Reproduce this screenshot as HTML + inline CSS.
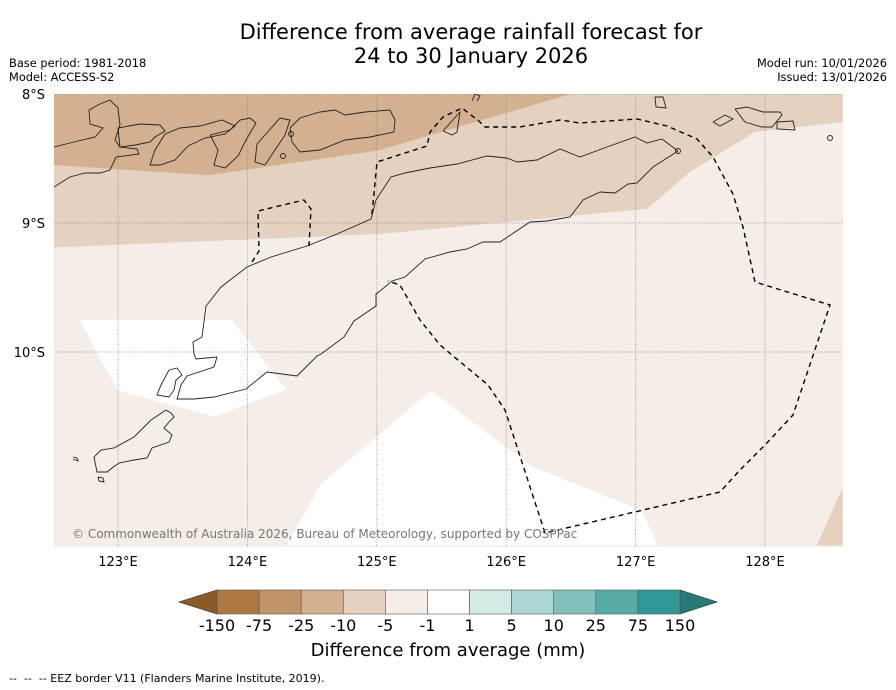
<!DOCTYPE html>
<html><head><meta charset="utf-8"><style>
body{margin:0;background:#fff;font-family:"DejaVu Sans","Liberation Sans",sans-serif}
#c{position:relative;width:896px;height:690px;overflow:hidden}
.t{position:absolute;white-space:nowrap}
</style></head><body>
<div id="c">
<div class="t" style="left:0;width:942px;top:20px;text-align:center;font-size:21px;line-height:24px">Difference from average rainfall forecast for<br>24 to 30 January 2026</div>
<div class="t" style="left:9px;top:56px;font-size:11.4px;line-height:14px">Base period: 1981-2018<br>Model: ACCESS-S2</div>
<div class="t" style="right:9px;top:56px;font-size:11.4px;line-height:14px;text-align:right">Model run: 10/01/2026<br>Issued: 13/01/2026</div>
<svg id="s" width="896" height="690" style="position:absolute;left:0;top:0"></svg>
<div class="t" style="left:0;width:896px;top:640px;text-align:center;font-size:18px">Difference from average (mm)</div>
<div class="t" style="left:9px;top:672px;font-size:11px">--&nbsp; --&nbsp; -- EEZ border V11 (Flanders Marine Institute, 2019).</div>
</div>
<script>
const lonTicks=[123,124,125,126,127,128];
const latTicks=[8,9,10];
const cbLabels=["-150","-75","-25","-10","-5","-1","1","5","10","25","75","150"];
const cbColors=["#8c5a26","#ad7842","#c09468","#d3b190","#e4d1c0","#f4ede8","#ffffff","#d5ebe8","#acd7d4","#82c0bc","#58aaa7","#2f9894","#267a78"];
// contour regions as [lon,lat(S)] pairs
const bandDark=[[122.5,8],[126.5,8],[125,8.44],[123.7,8.63],[122.5,8.55]];
const bandMid=[[122.5,8],[128.6,8],[128.6,8.217],[127.92,8.295],[127.42,8.605],[127.09,8.89],[125.02,9.085],[122.5,9.19]];
const whiteA=[[122.7,9.75],[123.88,9.75],[124.3,10.29],[123.75,10.5],[123,10.3]];
const whiteB=[[124.3,11.5],[124.57,11.02],[125.42,10.3],[126.2,10.89],[127.05,11.23],[127.17,11.5]];
const tanBR=[[128.4,11.5],[128.6,11.05],[128.6,11.5]];
// outline geometry (pixel-space traces of coast & border)
const eezA=[[252,262],[259,251],[258,211],[304,200],[311,209],[309,246]];
const eezB=[[372,214],[377,162],[427,146],[430,132],[443,117],[462,108],[480,122],[485,127],[520,127],[560,120],[580,123],[637,119],[667,126],[697,139],[713,157],[733,194],[743,227],[755,282],[830,305],[793,415],[765,445],[740,470],[720,492],[545,533],[505,410],[488,385],[440,345],[420,320],[400,285],[388,281]];
const timor=[[678,151],[653,167],[637,183],[628,184],[615,193],[600,192],[583,200],[570,217],[547,221],[530,222],[500,242],[483,242],[467,249],[450,252],[425,259],[405,277],[392,281],[380,291],[376,294],[376,306],[354,321],[344,337],[321,354],[317,356],[297,376],[267,372],[246,389],[214,397],[194,399],[177,399],[181,385],[187,376],[214,367],[217,357],[196,359],[194,354],[193,342],[202,337],[206,306],[221,287],[247,267],[271,257],[307,246],[337,234],[371,219],[376,200],[391,177],[405,173],[430,168],[457,164],[487,156],[507,158],[517,162],[537,160],[560,149],[580,157],[607,147],[635,137],[647,143],[662,139],[678,151]];
const islands=[
[[54,147],[70,143],[95,137],[103,128],[90,124],[89,110],[100,104],[110,100],[118,108],[120,125],[115,140],[120,147],[137,149],[139,154],[116,157],[110,170],[100,173],[85,173],[70,177],[54,187]],
[[118,128],[140,124],[160,125],[165,131],[155,137],[150,142],[135,145],[120,147],[118,128]],
[[165,134],[180,128],[200,126],[222,120],[235,126],[225,134],[205,138],[188,146],[175,160],[160,165],[150,165],[155,150],[165,134]],
[[210,135],[230,130],[240,120],[250,118],[256,123],[246,140],[238,156],[225,168],[214,165],[218,150],[210,135]],
[[257,144],[265,135],[280,118],[290,120],[285,135],[275,150],[265,165],[255,162],[257,144]],
[[290,128],[300,118],[320,112],[335,110],[345,115],[365,112],[390,110],[395,120],[394,132],[370,137],[345,140],[320,150],[300,152],[292,142],[290,128]],
[[443,131],[460,112],[457,132],[452,135],[443,131]],
[[472,101],[475,94],[480,96],[477,101]],
[[655,97],[663,97],[666,108],[656,107],[655,97]],
[[713,122],[725,115],[733,119],[720,126],[713,122]],
[[735,109],[747,107],[763,112],[780,112],[782,115],[772,127],[762,127],[745,122],[735,109]],
[[777,122],[793,121],[795,130],[777,129],[777,122]],
[[169,370],[177,368],[182,375],[176,380],[174,390],[169,397],[157,395],[161,385],[169,370]],
[[166,410],[171,413],[174,417],[169,422],[164,428],[172,435],[169,442],[152,448],[147,458],[134,460],[119,463],[112,468],[107,472],[97,472],[94,457],[101,450],[114,448],[134,437],[151,420],[166,410]],
[[98,477],[103,478],[104,482],[99,481],[98,477]],
[[73,457],[77,458],[78,461],[73,459]]];
const x=lon=>118+(lon-123)*129.4, y=lat=>94+(lat-8)*129;
const L=54,R=843,T=94,B=547;
const s=document.getElementById('s'),NS='http://www.w3.org/2000/svg';
function mk(tag,a,p){const e=document.createElementNS(NS,tag);for(const k in a)e.setAttribute(k,a[k]);(p||s).appendChild(e);return e;}
const pts=a=>a.map(p=>x(p[0]).toFixed(1)+','+y(p[1]).toFixed(1)).join(' ');
const ppts=a=>a.map(p=>p[0]+','+p[1]).join(' ');
const defs=mk('defs',{});const cp=mk('clipPath',{id:'cl'},defs);mk('rect',{x:L,y:T,width:R-L,height:B-T},cp);
const g=mk('g',{'clip-path':'url(#cl)'});

mk('rect',{x:L,y:T,width:R-L,height:B-T,fill:cbColors[5]},g);
[[bandMid,cbColors[4],'band-minus10-minus5'],[bandDark,cbColors[3],'band-minus25-minus10'],[whiteA,'#fff','band-neutral-west'],[whiteB,'#fff','band-neutral-south'],[tanBR,cbColors[4],'band-minus10-southeast']].forEach(([a,c,n])=>{
 const e=mk('polygon',{points:pts(a),fill:c},g);
 
 });
lonTicks.forEach(v=>{const e=mk('line',{x1:x(v),x2:x(v),y1:T,y2:B,stroke:'#888','stroke-width':0.8,'stroke-dasharray':'1,1.5'},g);
 
 });
latTicks.forEach(v=>{const e=mk('line',{x1:L,x2:R,y1:y(v),y2:y(v),stroke:'#888','stroke-width':0.8,'stroke-dasharray':'1,1.5'},g);
 
 });
[timor,...islands].forEach(a=>{const e=mk('polyline',{points:ppts(a),fill:'none',stroke:'#222','stroke-width':0.9},g);
 
 });
[[291,134],[283,156],[830,138],[678,151]].forEach(p=>{const e=mk('circle',{cx:p[0],cy:p[1],r:2.5,fill:'none',stroke:'#222','stroke-width':0.9},g);
 
 });
[eezA,eezB].forEach(a=>{const e=mk('polyline',{points:ppts(a),fill:'none',stroke:'#000','stroke-width':1.4,'stroke-dasharray':'5,4'},g);
 
 });
let cr=mk('text',{x:72,y:538,'font-size':12,fill:'#777'},g);cr.textContent='© Commonwealth of Australia 2026, Bureau of Meteorology, supported by COSPPac';


lonTicks.forEach(v=>{const e=mk('text',{x:x(v),y:566,'font-size':13,'text-anchor':'middle'});e.textContent=v+'°E';
 
 });
latTicks.forEach(v=>{const e=mk('text',{x:45,y:y(v)+5,'font-size':13,'text-anchor':'end'});e.textContent=v+'°S';
 
 });
const cbL=217,cbR=680,cbT=590,cbB=614,n=cbColors.length-2,w=(cbR-cbL)/n;
let e=mk('polygon',{points:`${cbL},${cbT} 179,602 ${cbL},${cbB}`,fill:cbColors[0],stroke:'#444','stroke-width':0.8});


e=mk('polygon',{points:`${cbR},${cbT} 717,602 ${cbR},${cbB}`,fill:cbColors[n+1],stroke:'#444','stroke-width':0.8});


for(let i=0;i<n;i++){e=mk('rect',{x:cbL+i*w,y:cbT,width:w,height:cbB-cbT,fill:cbColors[i+1],stroke:'#555','stroke-width':0.6});
 
 }
cbLabels.forEach((t,i)=>{const e=mk('text',{x:cbL+i*w,y:631,'font-size':16,'text-anchor':'middle'});e.textContent=t;
 
 });
</script>
</body></html>
